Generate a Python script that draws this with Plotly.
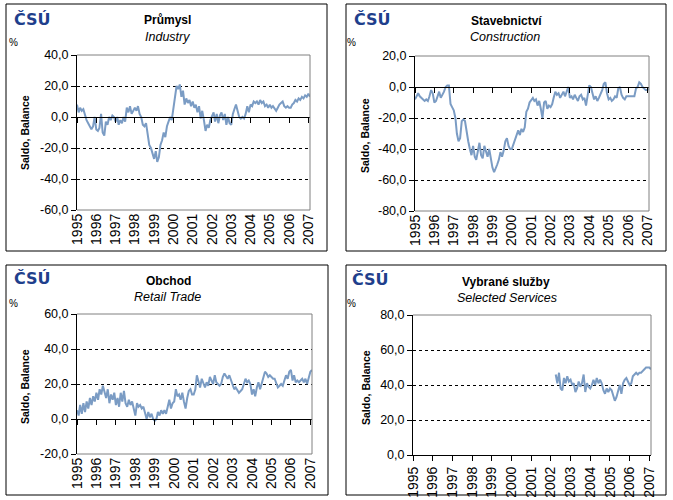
import pandas as pd
import plotly.graph_objects as go

# ---------------- data (monthly balances, %) ----------------
industry_start = "1995-01-01"
industry = [
    8, 3, 6, 4, 5, 1, -2, -4, -6, -8, -6, 0,            # 1995
    -8, -9, -7, 2, -10, -12, -3, -5, 0, -2, 1, 0,       # 1996
    -3, 0, -5, -2, -4, 0, -3, 6, 3, 7, 2, 4,            # 1997
    6, 4, 7, 2, 0, -5, -6, -4, -12, -18, -20, -24,      # 1998
    -27, -22, -29, -26, -18, -15, -10, -13, -6, -3, 0, -2,  # 1999
    5, 12, 20, 18, 21, 13, 17, 8, 12, 9, 11, 7,         # 2000
    10, 6, 8, 3, 7, -1, 4, -2, -9, -5, -7, -2,          # 2001
    0, 3, -3, 2, -4, 1, 3, -2, 2, -5, 0, -4,            # 2002
    -5, 2, 5, 8, 4, 0, -1, 0, -1, 2, 7, 3,              # 2003
    8, 7, 10, 9, 10, 8, 11, 9, 10, 7, 8, 6,             # 2004
    8, 6, 7, 5, 4, 6, 8, 9, 10, 7, 6, 7,                # 2005
    6, 6, 8, 9, 11, 10, 12, 11, 13, 12, 14, 13,         # 2006
    15, 13,                                             # 2007
]

construction_start = "1995-01-01"
construction = [
    -8, -6, -4, -6, -7, -8, -9, -8, -9, -6, -2, -4,
    -10, -9, -6, -3, -7, -5, -3, 0, 1, 1, -11, -13,
    -15, -20, -30, -35, -33, -22, -21, -22, -30, -35, -40, -44,
    -38, -45, -47, -40, -36, -44, -46, -38, -42, -45, -40, -47,
    -52, -55, -53, -50, -47, -42, -45, -41, -35, -33, -38, -40,
    -40, -37, -33, -30, -28, -31, -27, -29, -26, -16, -14, -10,
    -8, -7, -9, -8, -12, -9, -14, -20, -10, -9, -14, -12,
    -13, -11, -7, -3, -5, -4, -7, -5, -3, -6, -2, 0,
    -7, -6, -8, -5, -7, -9, -6, -5, -8, -7, -12, -6,
    1, 0, -5, -8, -6, -9, -7, -5, -2, 2, 3, -4,
    -8, -7, -9, -8, -6, -7, -1, 0, -5, -7, -8, -6,
    -6, -6, -6, -6, -6, -1, 0, 3, 2, 0, -1, -2,
    -2, -1,
]

retail_start = "1995-01-01"
retail = [
    5, 2, 8, 3, 9, 4, 10, 6, 12, 8, 13, 10,
    15, 11, 17, 14, 19, 16, 12, 17, 9, 14, 11, 15,
    8, 12, 7, 15, 10, 16, 9, 7, 11, 8, 10, 6,
    2, 9, 7, 8, 6, 7, 3, 0, 4, 1, 3, 0,
    -1, 0, 4, 2, 5, 3, 5, 3, 7, 11, 6, 9,
    10, 17, 13, 14, 11, 15, 10, 6, 12, 16, 17, 14,
    14, 17, 25, 21, 18, 23, 20, 18, 21, 19, 24, 22,
    20, 25, 21, 20, 19, 20, 24, 26, 24, 23, 25, 22,
    20, 17, 18, 16, 15, 16, 17, 20, 23, 21, 22, 20,
    14, 17, 13, 18, 21, 17, 20, 24, 27, 26, 24, 25,
    24, 23, 23, 20, 18, 19, 20, 19, 22, 25, 23, 27,
    28, 22, 25, 21, 22, 21, 22, 23, 21, 23, 20, 24,
    27, 28,
]

services_start = "2002-04-01"
services = [
    46, 41, 47, 38, 37, 44, 41, 45, 42,                 # 2002 Apr-Dec
    43, 40, 41, 36, 38, 42, 39, 41, 46, 36, 41, 39,     # 2003
    38, 40, 43, 40, 44, 41, 43, 41, 37, 35, 38, 36,     # 2004
    38, 37, 34, 31, 33, 36, 40, 35, 41, 43, 44, 42,     # 2005
    40, 41, 45, 46, 47, 46, 47, 47, 48, 49, 50, 50,     # 2006
    50, 49,                                             # 2007
]

year_ticks = ["%d-01-01" % y for y in range(1995, 2008)]
year_labels = ["1995", "1996", "1997", "1998", "1999", "2000", "2001",
               "2002", "2003", "2004", "2005", "2006", "2007"]
x_end = "2007-02-01"

titles_cz = ["Průmysl", "Stavebnictví", "Obchod", "Vybrané služby"]
titles_en = ["Industry", "Construction", "Retail Trade", "Selected Services"]

ind_ticks = [-60, -40, -20, 0, 20, 40]
ind_labels = ["-60,0", "-40,0", "-20,0", "0,0", "20,0", "40,0"]
con_ticks = [-80, -60, -40, -20, 0, 20]
con_labels = ["-80,0", "-60,0", "-40,0", "-20,0", "0,0", "20,0"]
ret_ticks = [-20, 0, 20, 40, 60]
ret_labels = ["-20,0", "0,0", "20,0", "40,0", "60,0"]
ser_ticks = [0, 20, 40, 60, 80]
ser_labels = ["0,0", "20,0", "40,0", "60,0", "80,0"]

# ---------------- layout geometry ----------------
W, H = 673, 500
LINE = "#7B9CC4"
FONT = "Liberation Sans, Arial, sans-serif"

def px(x):
    return x / W

def py(y):
    return 1 - y / H

panels = [
    dict(series=industry, start=industry_start, ticks=ind_ticks, labels=ind_labels,
         xdom=(77, 310), ydom=(55, 210), frame=(6, 4, 327, 251),
         logo=(32, 19), pct=(13, 43), title=(167, 20), sub=(167, 37), ytitle=(25, 133)),
    dict(series=construction, start=construction_start, ticks=con_ticks, labels=con_labels,
         xdom=(415, 649), ydom=(56, 211), frame=(346, 4, 666, 251),
         logo=(372, 19), pct=(351, 43), title=(506, 21), sub=(505, 37), ytitle=(365, 136)),
    dict(series=retail, start=retail_start, ticks=ret_ticks, labels=ret_labels,
         xdom=(77, 312), ydom=(314, 454), frame=(6, 265, 328, 495),
         logo=(32, 278), pct=(13, 303), title=(168, 281), sub=(167, 297), ytitle=(25, 387)),
    dict(series=services, start=services_start, ticks=ser_ticks, labels=ser_labels,
         xdom=(413, 651), ydom=(315, 455), frame=(346, 265, 666, 495),
         logo=(370, 279), pct=(351, 303), title=(506, 282), sub=(507, 298), ytitle=(366, 387)),
]

fig = go.Figure()
shapes = []
annotations = []
layout = dict(
    template="none",
    width=W, height=H, margin=dict(l=0, r=0, t=0, b=0, pad=0),
    paper_bgcolor="white", plot_bgcolor="white", showlegend=False,
    font=dict(family=FONT, color="black", size=12),
)

for i, p in enumerate(panels):
    n = i + 1
    xa = "x" if n == 1 else "x%d" % n
    ya = "y" if n == 1 else "y%d" % n
    xkey = "xaxis" if n == 1 else "xaxis%d" % n
    ykey = "yaxis" if n == 1 else "yaxis%d" % n
    dates = pd.date_range(p["start"], periods=len(p["series"]), freq="MS")
    lo, hi = min(p["ticks"]), max(p["ticks"])

    fig.add_trace(go.Scatter(x=dates, y=p["series"], mode="lines", xaxis=xa, yaxis=ya,
                             line=dict(color=LINE, width=2), hoverinfo="skip"))

    xd = (px(p["xdom"][0]), px(p["xdom"][1]))
    yd = (py(p["ydom"][1]), py(p["ydom"][0]))
    zero_at_bottom = (lo == 0)

    layout[xkey] = dict(
        domain=list(xd), anchor=ya, type="date", range=[year_ticks[0], x_end],
        tickvals=year_ticks, ticktext=year_labels, tickangle=-90,
        tickfont=dict(family=FONT, size=14, color="black"),
        showgrid=False, zeroline=False, automargin=False,
        showline=zero_at_bottom, linecolor="black", linewidth=1,
        ticks="outside" if zero_at_bottom else "", ticklen=5, tickcolor="black",
    )
    layout[ykey] = dict(
        domain=list(yd), anchor=xa, range=[lo, hi], automargin=False,
        tickvals=p["ticks"], ticktext=p["labels"],
        tickfont=dict(family=FONT, size=12.5, color="black"),
        showline=True, linecolor="black", linewidth=1,
        ticks="outside", ticklen=5, tickcolor="black",
        showgrid=True, gridcolor="black", gridwidth=1, griddash="3px,3px",
        zeroline=not zero_at_bottom, zerolinecolor="black", zerolinewidth=1,
    )

    if not zero_at_bottom:
        # category axis crossing at 0, with year tick marks
        okey = "xaxis%d" % (n + 4)
        oa = "x%d" % (n + 4)
        pos = yd[0] + (0 - lo) / (hi - lo) * (yd[1] - yd[0])
        layout[okey] = dict(
            overlaying=xa, anchor="free", position=pos, type="date", automargin=False,
            range=[year_ticks[0], x_end], tickvals=year_ticks, showticklabels=False,
            ticks="outside", ticklen=5, tickcolor="black",
            showline=True, linecolor="black", linewidth=1,
            showgrid=False, zeroline=False, domain=list(xd),
        )
        fig.add_trace(go.Scatter(x=dates, y=p["series"], mode="lines", xaxis=oa, yaxis=ya,
                                 line=dict(width=0, color="rgba(0,0,0,0)"), hoverinfo="skip"))

    # gray plot-area border (top, right, bottom)
    border = dict(type="line", xref=xa + " domain", yref=ya + " domain",
                  line=dict(color="#808080", width=1), layer="above")
    shapes.append(dict(border, x0=0, x1=1, y0=1, y1=1))
    shapes.append(dict(border, x0=1, x1=1, y0=0, y1=1))
    if not zero_at_bottom:
        shapes.append(dict(border, x0=0, x1=1, y0=0, y1=0))

    # chart frame
    fx0, fy0, fx1, fy1 = p["frame"]
    shapes.append(dict(type="rect", xref="paper", yref="paper",
                       x0=px(fx0), x1=px(fx1), y0=py(fy1), y1=py(fy0),
                       line=dict(color="black", width=1), layer="above"))

    def ann(text, xy, size, **kw):
        d = dict(text=text, x=px(xy[0]), y=py(xy[1]), xref="paper", yref="paper",
                 showarrow=False, xanchor="center", yanchor="middle",
                 font=dict(family=FONT, size=size, color="black"))
        d.update(kw)
        annotations.append(d)

    ann("<b>" + titles_cz[i] + "</b>", p["title"], 12)
    ann("<i>" + titles_en[i] + "</i>", p["sub"], 12.5)
    ann("%", p["pct"], 10)
    ann("<b>Saldo, Balance</b>", p["ytitle"], 10.5, textangle=-90)
    annotations.append(dict(text="<b>ČSÚ</b>", x=px(p["logo"][0]), y=py(p["logo"][1]),
                            xref="paper", yref="paper", showarrow=False,
                            xanchor="center", yanchor="middle",
                            font=dict(family="DejaVu Sans", size=16, color="#1F3F8C")))

layout["shapes"] = shapes
layout["annotations"] = annotations
fig.update_layout(**layout)
fig.write_html("out.html", config={"displayModeBar": False, "staticPlot": True})

# remove the browser's default page margin so the figure sits at (0, 0)
with open("out.html", "r", encoding="utf-8") as f:
    html = f.read()
html = html.replace("<body>", '<body style="margin:0;padding:0;overflow:hidden">', 1)
with open("out.html", "w", encoding="utf-8") as f:
    f.write(html)
